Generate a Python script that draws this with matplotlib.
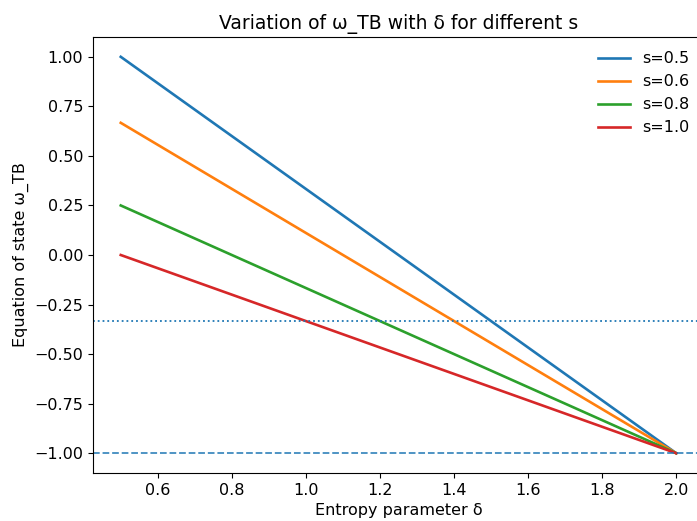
import numpy as np
import matplotlib
matplotlib.use('Agg')
import matplotlib.pyplot as plt

plt.rcParams['font.size'] = 11.5

# straight lines from delta=0.5 to delta=2.0
delta = [0.5, 2.0]
s_values = ['0.5', '0.6', '0.8', '1.0']
w_start = [1.0, 0.667, 0.25, 0.0]
w_end = [-1.0, -1.0, -1.0, -1.0]
w_dotted = -1.0 / 3.0
w_dashed = -1.0

fig = plt.figure(figsize=(6.97, 5.21), dpi=100)
ax = fig.add_axes([0.1334, 0.0921, 0.8766, 0.8369])

for s, w0, w1 in zip(s_values, w_start, w_end):
    ax.plot(delta, [w0, w1], lw=1.9, label='s=' + s)

ax.axhline(w_dotted, color='C0', ls=':', lw=1.3)
ax.axhline(w_dashed, color='C0', ls='--', lw=1.3, alpha=0.85)

ax.set_ylim(-1.1, 1.1)
ax.set_yticks(np.arange(-1.0, 1.01, 0.25))
ax.set_xlabel('Entropy parameter δ')
ax.set_ylabel('Equation of state ω_TB')
ax.set_title('Variation of ω_TB with δ for different s', fontsize=13.5)
ax.legend(loc='upper right', frameon=False)

fig.savefig('out.png', dpi=100)
